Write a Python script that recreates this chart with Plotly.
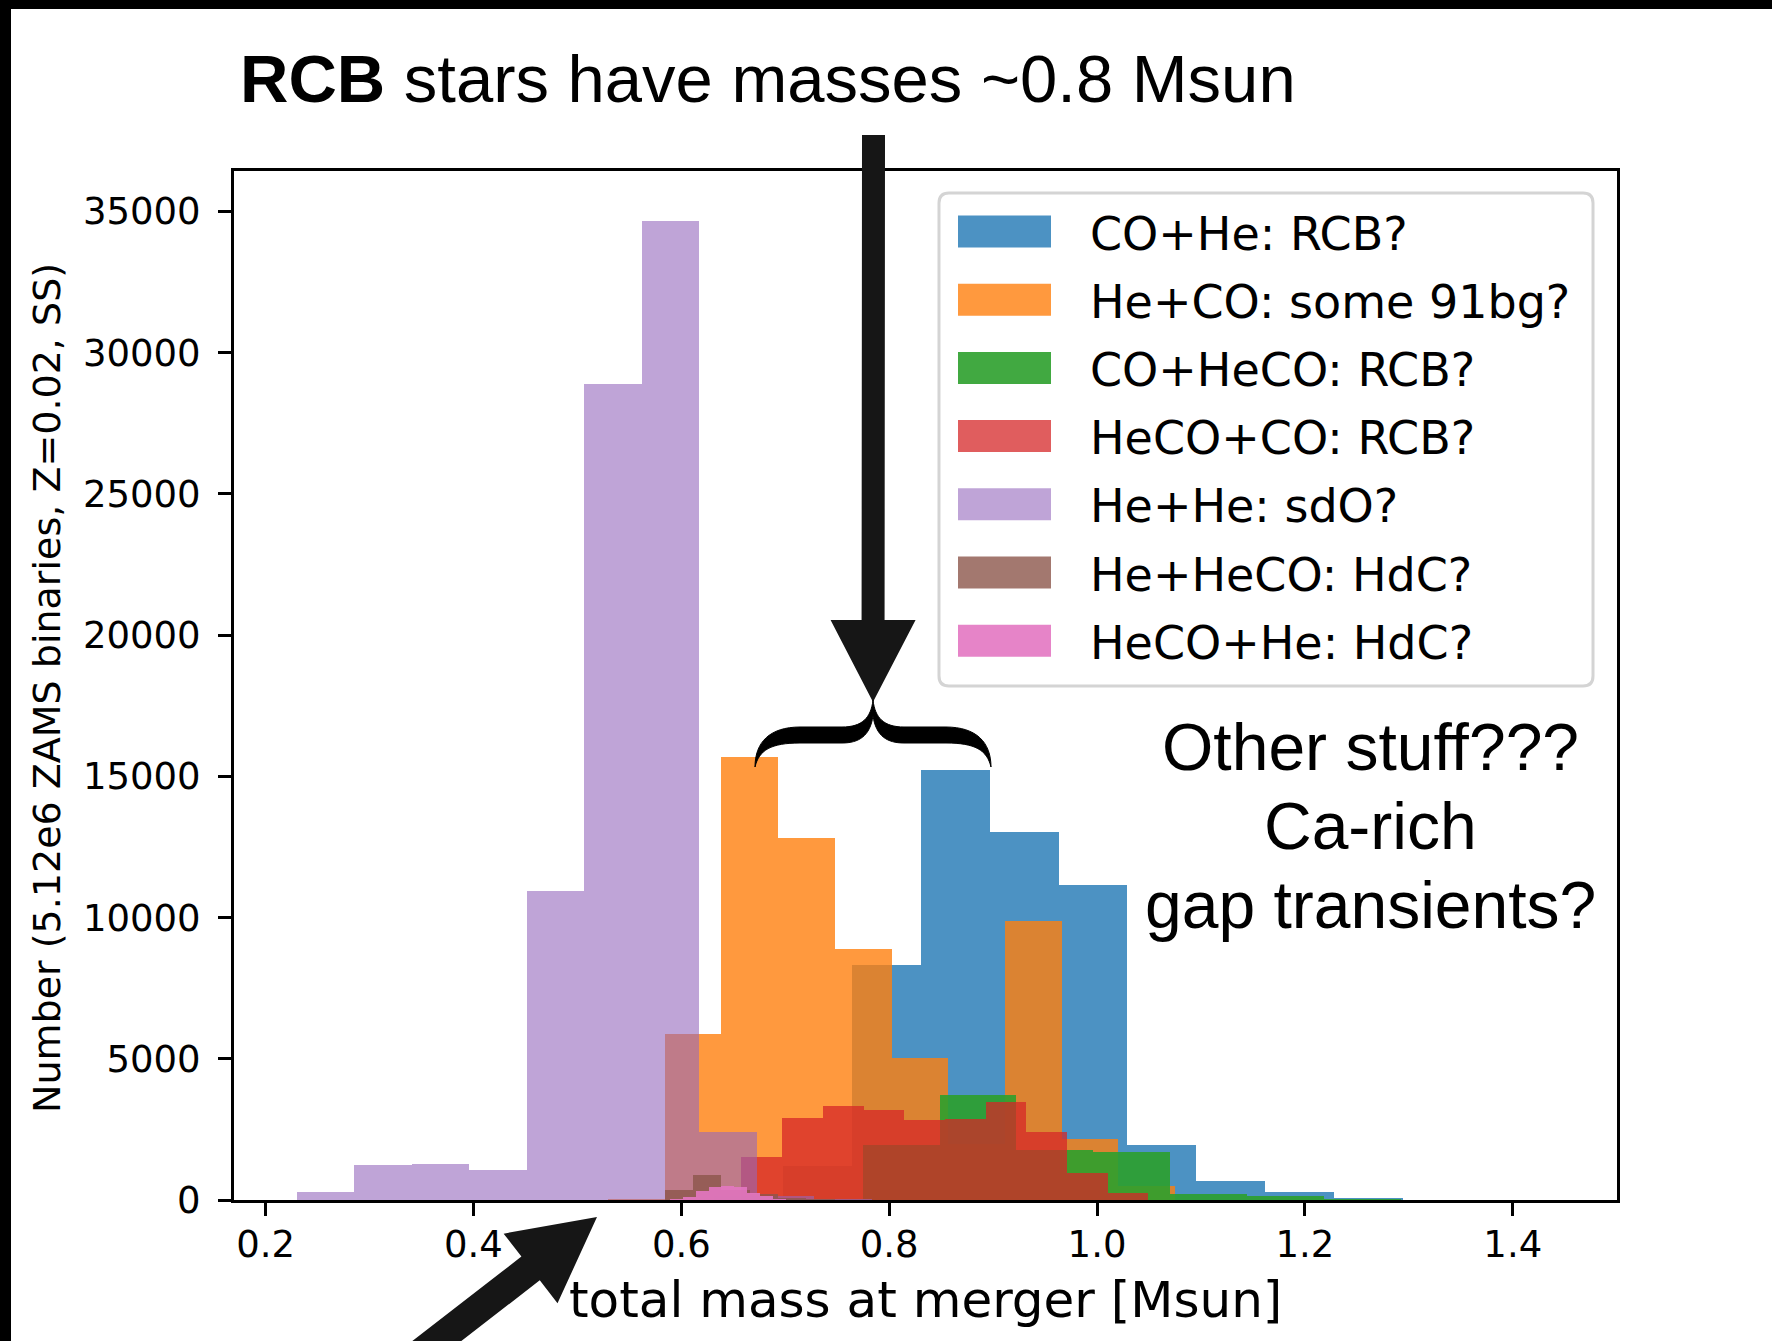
import plotly.graph_objects as go

# ---- histogram data: per merger channel, left edge of first bin, bin width [Msun], counts ----
labels = ["CO+He: RCB?", "He+CO: some 91bg?", "CO+HeCO: RCB?", "HeCO+CO: RCB?",
          "He+He: sdO?", "He+HeCO: HdC?", "HeCO+He: HdC?"]

co_he_start, co_he_width = 0.6315, 0.0663
co_he_counts = [150, 1200, 8305, 15232, 13040, 11167, 1944, 671, 283, 83]

he_co_start, he_co_width = 0.5295, 0.05457
he_co_counts = [40, 5866, 15690, 12830, 8894, 5030, 2000, 9895, 2145, 495]

co_heco_start, co_heco_width = 0.7008, 0.0739
co_heco_counts = [30, 1944, 3710, 1767, 1696, 212, 141, 20, 8, 5]

heco_co_start, heco_co_width = 0.6578, 0.03917
heco_co_counts = [1520, 2902, 3322, 3180, 2827, 2862, 3475, 2403, 966, 236]

he_he_start, he_he_width = 0.2302, 0.0553
he_he_counts = [300, 1240, 1270, 1060, 10950, 28900, 34650, 2403, 130, 50]

he_heco_start, he_heco_width = 0.584, 0.02724
he_heco_counts = [353, 883, 350, 200, 80, 40, 15, 8, 3, 2]

heco_he_start, heco_he_width = 0.589, 0.0124
heco_he_counts = [20, 94, 318, 448, 495, 448, 259, 141, 40, 10]

x_ticks = [0.2, 0.4, 0.6, 0.8, 1.0, 1.2, 1.4]
y_ticks = [0, 5000, 10000, 15000, 20000, 25000, 30000, 35000]

# ---- styling ----
colors = ["#1f77b4", "#ff7f0e", "#2ca02c", "#d62728", "#9467bd", "#8c564b", "#e377c2"]
alphas = [0.8, 0.8, 0.9, 0.75, 0.6, 0.8, 0.9]

series = [
    (co_he_start, co_he_width, co_he_counts),
    (he_co_start, he_co_width, he_co_counts),
    (co_heco_start, co_heco_width, co_heco_counts),
    (heco_co_start, heco_co_width, heco_co_counts),
    (he_he_start, he_he_width, he_he_counts),
    (he_heco_start, he_heco_width, he_heco_counts),
    (heco_he_start, heco_he_width, heco_he_counts),
]


def rgba(hex_color, a):
    h = hex_color.lstrip("#")
    r, g, b = int(h[0:2], 16), int(h[2:4], 16), int(h[4:6], 16)
    return f"rgba({r},{g},{b},{a})"


W, H = 1772, 1341
ML, MR, MT, MB = 234, 155, 171, 141
PW, PH = W - ML - MR, H - MT - MB


def px(x):
    return (x - ML) / PW


def py(y):
    return (H - MB - y) / PH


def path_from(points, close=True):
    s = "M " + " L ".join(f"{px(x):.5f},{py(y):.5f}" for x, y in points)
    return s + (" Z" if close else "")


def arrow_points(tail, tip, shaft_w, head_w, head_len):
    tx, ty = tail
    hx, hy = tip
    dx, dy = hx - tx, hy - ty
    n = (dx * dx + dy * dy) ** 0.5
    ux, uy = dx / n, dy / n
    vx, vy = -uy, ux
    bx, by = hx - ux * head_len, hy - uy * head_len
    s, hw = shaft_w / 2, head_w / 2
    return [
        (tx + vx * s, ty + vy * s),
        (bx + vx * s, by + vy * s),
        (bx + vx * hw, by + vy * hw),
        (hx, hy),
        (bx - vx * hw, by - vy * hw),
        (bx - vx * s, by - vy * s),
        (tx - vx * s, ty - vy * s),
    ]


fig = go.Figure()

for (start, width, counts), name, c, a in zip(series, labels, colors, alphas):
    centers = [start + width * (i + 0.5) for i in range(len(counts))]
    fig.add_trace(go.Bar(
        x=centers, y=counts, width=[width] * len(counts), name=name,
        marker=dict(color=rgba(c, a), line=dict(width=0)),
        showlegend=False,
    ))

shapes = []
annotations = []

# black edges of the slide
shapes.append(dict(type="rect", xref="paper", yref="paper", x0=px(0), x1=px(W), y0=py(0), y1=py(9),
                   fillcolor="black", line=dict(width=0), layer="above"))
shapes.append(dict(type="rect", xref="paper", yref="paper", x0=px(0), x1=px(11), y0=py(0), y1=py(H),
                   fillcolor="black", line=dict(width=0), layer="above"))

# legend frame with rounded corners
lx0, lx1, ly0, ly1, rr = 939, 1593, 193, 686, 10
legend_path = (
    f"M {px(lx0 + rr):.5f},{py(ly0):.5f} L {px(lx1 - rr):.5f},{py(ly0):.5f} "
    f"Q {px(lx1):.5f},{py(ly0):.5f} {px(lx1):.5f},{py(ly0 + rr):.5f} "
    f"L {px(lx1):.5f},{py(ly1 - rr):.5f} Q {px(lx1):.5f},{py(ly1):.5f} {px(lx1 - rr):.5f},{py(ly1):.5f} "
    f"L {px(lx0 + rr):.5f},{py(ly1):.5f} Q {px(lx0):.5f},{py(ly1):.5f} {px(lx0):.5f},{py(ly1 - rr):.5f} "
    f"L {px(lx0):.5f},{py(ly0 + rr):.5f} Q {px(lx0):.5f},{py(ly0):.5f} {px(lx0 + rr):.5f},{py(ly0):.5f} Z"
)
shapes.append(dict(type="path", xref="paper", yref="paper", path=legend_path,
                   fillcolor="rgba(255,255,255,0.85)", line=dict(color="#d4d4d4", width=3), layer="above"))

row0, row_step = 231.5, 68.2
for i, (name, c, a) in enumerate(zip(labels, colors, alphas)):
    yc = row0 + i * row_step
    shapes.append(dict(type="rect", xref="paper", yref="paper",
                       x0=px(958), x1=px(1051), y0=py(yc - 16), y1=py(yc + 16),
                       fillcolor=rgba(c, a), line=dict(width=0), layer="above"))
    annotations.append(dict(text=name, xref="paper", yref="paper", x=px(1088), y=py(yc + 2),
                            xanchor="left", yanchor="middle", showarrow=False,
                            font=dict(family="DejaVu Sans", size=46, color="black")))

# arrows
arrow_color = "#161616"
shapes.append(dict(type="path", xref="paper", yref="paper",
                   path=path_from(arrow_points((873.5, 135), (873, 702), 23, 85, 82)),
                   fillcolor=arrow_color, line=dict(width=0), layer="above"))
shapes.append(dict(type="path", xref="paper", yref="paper",
                   path=path_from(arrow_points((380, 1385), (597, 1217), 30, 88, 84)),
                   fillcolor=arrow_color, line=dict(width=0), layer="above"))

# curly brace over the 0.7-0.9 Msun range
brace = (
    "M {0} C {1} {2} {3} L {4} C {5} {6} {7} "
    "C {8} {9} {10} L {11} C {12} {13} {14} "
    "C {15} {16} {17} L {18} C {19} {20} {21} "
    "C {22} {23} {24} L {25} C {26} {27} {28} Z"
)
pts = [
    (755, 767), (755, 742), (770, 727), (800, 727), (842, 727), (862, 727), (871, 718), (873, 700),
    (875, 718), (884, 727), (904, 727), (946, 727), (976, 727), (991, 742), (991, 767),
    (987, 750), (975, 743), (946, 743), (904, 743), (887, 743), (876, 736), (873, 716),
    (870, 736), (859, 743), (842, 743), (800, 743), (771, 743), (759, 750), (755, 767),
]
brace_path = brace.format(*[f"{px(x):.5f},{py(y):.5f}" for x, y in pts])
shapes.append(dict(type="path", xref="paper", yref="paper", path=brace_path,
                   fillcolor="black", line=dict(color="black", width=1), layer="above"))

# headline and side notes
annotations.append(dict(text="<b>RCB</b> stars have masses ~0.8 Msun", xref="paper", yref="paper",
                        x=px(768), y=py(78), xanchor="center", yanchor="middle", showarrow=False,
                        font=dict(family="Liberation Sans", size=67, color="black")))
for txt, yc in [("Other stuff???", 747), ("Ca-rich", 826), ("gap transients?", 905)]:
    annotations.append(dict(text=txt, xref="paper", yref="paper", x=px(1370), y=py(yc),
                            xanchor="center", yanchor="middle", showarrow=False,
                            font=dict(family="Liberation Sans", size=66, color="black")))

# axis titles
annotations.append(dict(text="total mass at merger [Msun]", xref="paper", yref="paper",
                        x=px(925), y=py(1300), xanchor="center", yanchor="middle", showarrow=False,
                        font=dict(family="DejaVu Sans", size=50, color="black")))
annotations.append(dict(text="Number (5.12e6 ZAMS binaries, Z=0.02, SS)", xref="paper", yref="paper",
                        x=px(47), y=py(688), xanchor="center", yanchor="middle", showarrow=False,
                        textangle=-90,
                        font=dict(family="DejaVu Sans", size=38, color="black")))

axis_common = dict(showline=True, mirror=True, linecolor="black", linewidth=3,
                   ticks="outside", ticklen=13, tickwidth=2.5, tickcolor="black",
                   showgrid=False, zeroline=False,
                   tickfont=dict(family="DejaVu Sans", size=37, color="black"))

fig.update_layout(
    width=W, height=H,
    margin=dict(l=ML, r=MR, t=MT, b=MB, autoexpand=False),
    paper_bgcolor="white", plot_bgcolor="white",
    barmode="overlay", bargap=0,
    showlegend=False,
    font=dict(family="DejaVu Sans", color="black"),
    xaxis=dict(range=[0.1696, 1.5003], tickvals=x_ticks, tickformat=".1f",
               ticklabelstandoff=-3, **axis_common),
    yaxis=dict(range=[0, 36435], tickvals=y_ticks, tickformat="d",
               ticklabelstandoff=10, **axis_common),
    shapes=shapes,
    annotations=annotations,
)

fig.write_html("out.html")
